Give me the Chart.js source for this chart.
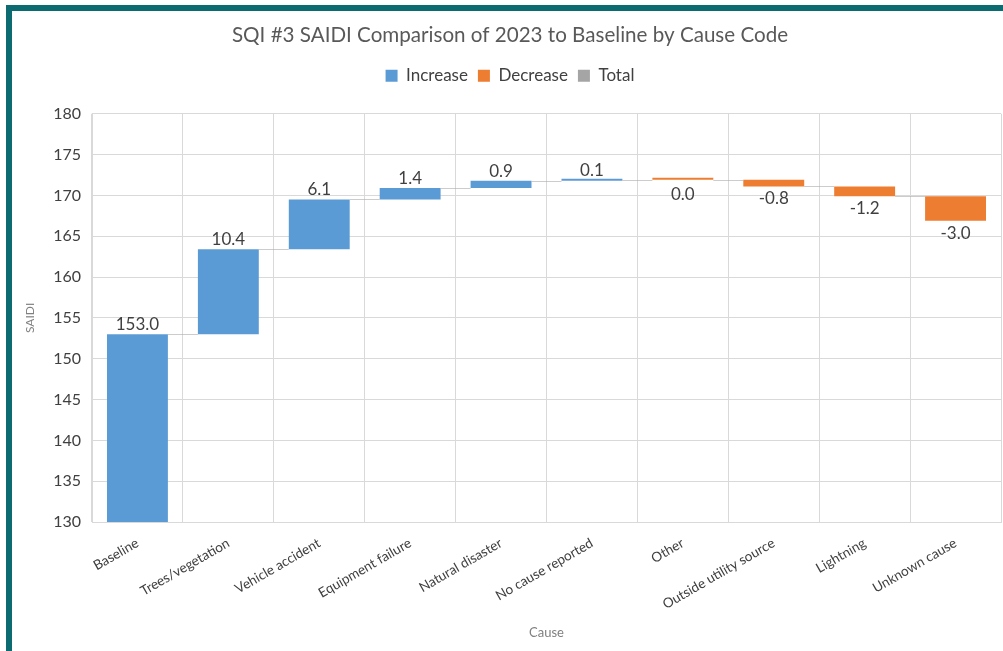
<!DOCTYPE html>
<html>
<head>
<meta charset="utf-8">
<title>SQI #3 SAIDI Comparison of 2023 to Baseline by Cause Code</title>
<script src="https://cdn.jsdelivr.net/npm/chart.js@4.4.1/dist/chart.umd.min.js"></script>
<style>
  html, body { margin: 0; padding: 0; background: #ffffff; overflow: hidden; }
  #frame {
    position: absolute; left: 6px; top: 5px; right: 0; bottom: 0;
    border-top: 6px solid #0c6b70; border-left: 6px solid #0c6b70;
  }
  #chart { position: absolute; left: 0; top: 0; }
</style>
</head>
<body>
<div id="frame"></div>
<canvas id="chart" width="1003" height="651"></canvas>
<script>
// Cause codes along the x axis
const causes = [
  'Baseline', 'Trees/vegetation', 'Vehicle accident', 'Equipment failure',
  'Natural disaster', 'No cause reported', 'Other', 'Outside utility source',
  'Lightning', 'Unknown cause'
];
// SAIDI change contributed by each cause (baseline first)
const changes = [153.0, 10.4, 6.1, 1.4, 0.9, 0.1, 0.0, -0.8, -1.2, -3.0];
// Which legend series each step belongs to
const kinds = ['increase', 'increase', 'increase', 'increase', 'increase',
               'increase', 'decrease', 'decrease', 'decrease', 'decrease'];
// Y axis tick values
const yTickValues = [130, 135, 140, 145, 150, 155, 160, 165, 170, 175, 180];

const COLORS = { increase: '#5b9bd5', decrease: '#ed7d31', total: '#a5a5a5' };
const FONT = 'Lato, "Open Sans", sans-serif';

// Running totals -> floating [start, end] ranges
const ranges = [];
let running = 0;
changes.forEach(v => {
  const start = running;
  running = +(running + v).toFixed(2);
  ranges.push([start, running]);
});
const increaseData = ranges.map((r, i) => kinds[i] === 'increase' ? r : null);
const decreaseData = ranges.map((r, i) => kinds[i] === 'decrease' ? r : null);
const totalData = causes.map(() => null);

// Thin connectors between consecutive steps + value labels
const waterfallExtras = {
  id: 'waterfallExtras',
  afterDatasetsDraw(chart) {
    const { ctx, scales: { x, y }, chartArea } = chart;
    const bars = [];
    chart.data.datasets.forEach((ds, di) => {
      const meta = chart.getDatasetMeta(di);
      meta.data.forEach((el, i) => { if (ds.data[i]) bars[i] = el; });
    });
    ctx.save();
    ctx.beginPath();
    ctx.rect(chartArea.left, chartArea.top, chartArea.width, chartArea.height);
    ctx.clip();
    ctx.strokeStyle = 'rgba(170,170,170,0.6)';
    ctx.lineWidth = 1;
    for (let i = 0; i < ranges.length - 1; i++) {
      const a = bars[i], b = bars[i + 1];
      if (!a || !b) continue;
      const yy = Math.round(y.getPixelForValue(ranges[i][1])) + 0.5;
      ctx.beginPath();
      ctx.moveTo(a.x + a.width / 2, yy);
      ctx.lineTo(b.x - b.width / 2, yy);
      ctx.stroke();
    }
    ctx.restore();

    ctx.save();
    ctx.font = '17px ' + FONT;
    ctx.fillStyle = '#404040';
    ctx.textAlign = 'center';
    ranges.forEach((r, i) => {
      const el = bars[i];
      if (!el) return;
      const label = changes[i].toFixed(1);
      if (kinds[i] === 'increase') {
        ctx.textBaseline = 'bottom';
        ctx.fillText(label, el.x, y.getPixelForValue(r[1]) - 1);
      } else {
        ctx.textBaseline = 'top';
        const bottom = Math.max(y.getPixelForValue(r[1]), y.getPixelForValue(r[0]) + 2);
        ctx.fillText(label, el.x, bottom + 4);
      }
    });
    ctx.restore();
  }
};

// Extra room under the legend before the plot area
const legendGap = {
  id: 'legendGap',
  afterInit(chart) {
    const legend = chart.legend;
    const fit = legend.fit;
    legend.fit = function () { fit.call(this); this.height += 19.5; };
  }
};

new Chart(document.getElementById('chart'), {
  type: 'bar',
  data: {
    labels: causes,
    datasets: [
      { label: 'Increase', data: increaseData, backgroundColor: COLORS.increase },
      { label: 'Decrease', data: decreaseData, backgroundColor: COLORS.decrease },
      { label: 'Total', data: totalData, backgroundColor: COLORS.total }
    ]
  },
  options: {
    responsive: false,
    animation: false,
    datasets: {
      bar: {
        grouped: false,
        barPercentage: 0.67,
        categoryPercentage: 1,
        borderWidth: 0,
        minBarLength: 2
      }
    },
    layout: { padding: { left: 19, right: 2, top: 0, bottom: 0 } },
    plugins: {
      title: {
        display: true,
        text: 'SQI #3 SAIDI Comparison of 2023 to Baseline by Cause Code',
        color: '#595959',
        font: { family: FONT, size: 20.6, weight: 'normal' },
        padding: { top: 23, bottom: 9.5 }
      },
      legend: {
        position: 'top',
        labels: {
          color: '#404040',
          font: { family: FONT, size: 17 },
          boxWidth: 12,
          boxHeight: 12,
          padding: 10
        }
      },
      tooltip: { enabled: false }
    },
    scales: {
      x: {
        grid: { color: '#d9d9d9', offset: true, drawTicks: false },
        border: { color: '#d9d9d9' },
        ticks: {
          color: '#404040',
          font: { family: FONT, size: 13.5 },
          minRotation: 30,
          maxRotation: 30,
          autoSkip: false,
          padding: 13
        },
        title: {
          display: true,
          text: 'Cause',
          color: '#808080',
          font: { family: FONT, size: 13 },
          padding: { top: 4, bottom: 10 }
        },
        afterFit(scale) { scale.height = 129; }
      },
      y: {
        min: yTickValues[0],
        max: yTickValues[yTickValues.length - 1],
        grid: { color: '#d9d9d9', drawTicks: false },
        border: { color: '#d9d9d9' },
        ticks: {
          color: '#404040',
          font: { family: FONT, size: 16 },
          padding: 11
        },
        afterBuildTicks(scale) { scale.ticks = yTickValues.map(v => ({ value: v })); },
        title: {
          display: true,
          text: 'SAIDI',
          color: '#808080',
          font: { family: FONT, size: 12 },
          padding: { top: 4, bottom: 4 }
        },
        afterFit(scale) { scale.width = 73; }
      }
    }
  },
  plugins: [waterfallExtras, legendGap]
});
</script>
</body>
</html>
